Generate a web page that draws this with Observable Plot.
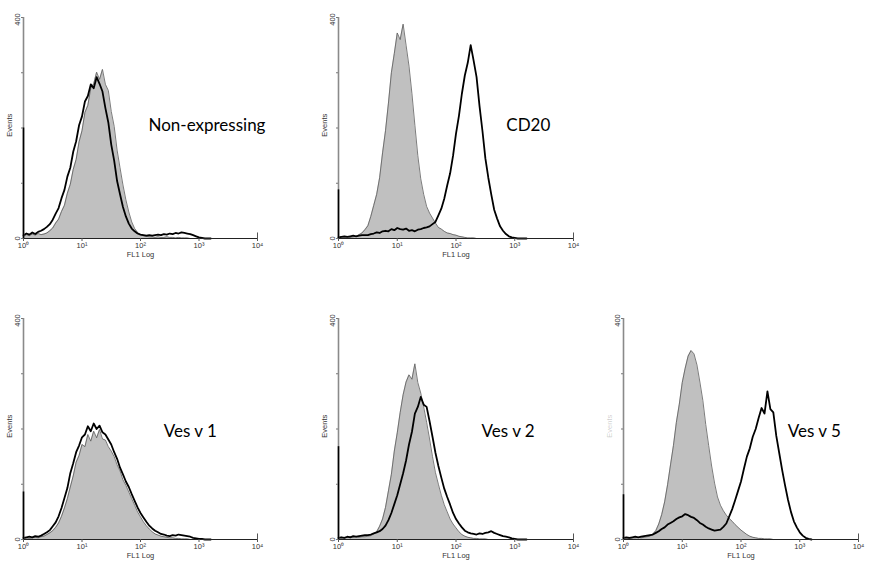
<!DOCTYPE html>
<html><head><meta charset="utf-8">
<script src="https://cdn.jsdelivr.net/npm/d3@7"></script>
<script src="https://cdn.jsdelivr.net/npm/@observablehq/plot@0.6"></script>
<style>
body{margin:0;background:#fff;}
#wrap{position:relative;width:877px;height:575px;overflow:hidden;background:#fff;}
.panel{position:absolute;}
</style></head><body><div id="wrap"></div>
<script>
// channel spacing in decades (FL1 log scale, 10^0 .. 10^4)
const logStep = 0.05;
const panelLabels = ["Non-expressing", "CD20", "Ves v 1", "Ves v 2", "Ves v 5"];
const xTickValues = [1, 10, 100, 1000, 10000];
const xTickLabels = ["10⁰", "10¹", "10²", "10³", "10⁴"];
const yTickValues = [0, 100, 200, 300, 400];
const yEndLabels = ["0", "400"];
const xTitle = "FL1 Log";
const yTitle = "Events";

// Control (gray filled) histograms, counts per channel starting at 10^0
const control1 = [4,7,5,8,6,9,7,8,10,14,19,28,35,49,60,82,98,125,143,175,195,228,241,272,280,301,288,306,279,268,230,203,160,128,97,70,48,30,18,11,7,5,4,3,3,2,3,2,2,3,2,2,1,2,1,1,1,0,0,0,0,0,0,0,0];
const control2 = [2,3,2,3,2,3,4,7,10,16,23,40,60,80,110,155,195,245,300,335,372,360,388,350,312,262,205,150,108,80,58,46,37,28,20,17,13,10,9,7,6,4,3,2,1,1,1,0,0,0,0,0,0,0,0,0,0,0,0,0,0,0,0,0,0];
const control3 = [2,3,2,3,4,3,5,6,9,12,16,22,30,42,57,74,95,115,140,152,172,168,190,178,196,184,199,182,180,168,160,150,135,124,108,98,86,74,62,50,41,32,25,19,14,10,8,6,5,4,3,3,2,2,1,1,1,0,0,0,0,0,0,0,0];
const control4 = [3,4,3,4,5,4,5,4,5,5,6,7,10,14,24,37,58,88,118,160,193,230,262,285,298,290,318,284,265,240,212,182,150,121,100,80,63,50,37,28,21,14,9,6,4,3,2,2,1,1,1,0,0,0,0,0,0,0,0,0,0,0,0,0,0];
const control5 = [2,3,2,3,3,4,3,4,5,6,10,16,28,45,68,99,135,170,212,245,284,310,332,342,336,316,285,252,208,170,133,102,77,62,52,44,38,33,27,22,17,13,9,6,4,3,2,2,1,1,1,0,0,0,0,0,0,0,0,0,0,0,0,0,0];

// Sample (black line) histograms
const sample1 = [6,9,7,11,8,12,14,17,21,26,34,45,55,73,88,112,128,157,176,205,221,248,258,279,272,292,280,266,236,210,170,141,104,80,57,40,27,18,13,9,7,6,5,6,5,6,7,6,8,7,9,8,10,9,11,10,9,8,6,4,2,1,0,0,0];
const sample2 = [2,3,4,3,4,5,4,5,6,6,6,8,9,11,10,13,14,13,17,15,19,17,16,18,14,15,13,16,17,19,20,22,26,30,42,54,72,96,118,150,190,222,262,295,318,350,322,292,240,195,145,110,80,52,36,22,14,8,4,2,1,0,0,0,0];
const sample3 = [3,4,5,4,6,5,7,10,13,17,24,31,42,57,75,93,120,138,158,170,185,190,205,196,210,200,206,194,190,181,172,158,146,130,118,105,95,82,70,58,48,40,32,25,20,16,13,10,9,7,6,8,7,9,8,7,6,5,3,2,1,1,0,0,0];
const sample4 = [3,4,3,5,4,6,5,6,7,8,8,9,11,13,15,19,25,35,48,64,80,100,120,143,172,195,228,240,258,244,240,214,186,157,133,112,92,77,63,48,37,29,22,16,13,11,10,9,11,10,12,13,15,12,10,8,6,5,4,2,1,0,0,0,0];
const sample5 = [3,4,3,4,5,4,5,6,7,8,9,12,15,19,22,27,30,33,37,40,42,46,44,41,39,35,30,27,23,20,18,16,17,18,23,29,42,55,71,88,105,128,150,165,186,200,220,238,228,268,236,230,188,157,126,98,72,50,33,22,13,7,3,1,0];

// first-channel (off-scale low) counts of the sample histograms
const firstChannel = [200, 88, 86, 168, 81];

const controls = [control1, control2, control3, control4, control5];
const samples = [sample1, sample2, sample3, sample4, sample5];

// label anchor in data units (FL1 value, events)
const labelPos = [[137, 205], [719, 205], [250, 196], [273, 196], [626, 196]];
const panelBox = [
  {left: 0, top: 7, width: 290},
  {left: 315, top: 7, width: 290},
  {left: 0, top: 308, width: 290},
  {left: 315, top: 308, width: 290},
  {left: 600, top: 308, width: 277}
];

const toRows = arr => arr.map((v, i) => ({x: Math.pow(10, i * logStep), y: v}));

const wrap = document.getElementById("wrap");
const tinyFont = "'Liberation Sans', Arial, sans-serif";

panelLabels.forEach((label, p) => {
  const box = panelBox[p];
  const ctrl = toRows(controls[p]);
  const samp = toRows(samples[p]);
  const plotW = p === 0 || p === 2 ? 234 : 235;
  const chart = Plot.plot({
    width: box.width,
    height: 270,
    marginLeft: 23,
    marginRight: box.width - 23 - plotW,
    marginTop: 10,
    marginBottom: 39,
    style: {background: "transparent", overflow: "visible"},
    x: {type: "log", domain: [1, 10000], axis: null},
    y: {domain: [0, 400], axis: null},
    marks: [
      Plot.areaY(ctrl, {x: "x", y: "y", fill: "#c0c0c0"}),
      Plot.lineY(ctrl, {x: "x", y: "y", stroke: "#5a5a5a", strokeWidth: 0.8}),
      Plot.lineY(samp, {x: "x", y: "y", stroke: "#000", strokeWidth: 1.8}),
      // axes
      Plot.ruleY([0], {x1: 1, x2: 10000, stroke: "#222", strokeWidth: 1}),
      Plot.ruleX([1], {y1: 0, y2: 400, stroke: "#8a8a8a", strokeWidth: 1.6}),
      Plot.ruleX([firstChannel[p]], {x: () => 1, y1: 0, y2: d => d, stroke: "#000", strokeWidth: 1.6}),
      Plot.ruleX([10000], {y1: 0, y2: 10, stroke: "#555", strokeWidth: 1}),
      Plot.axisX({ticks: xTickValues, tickSize: 3, tickPadding: 1, fontSize: 7.5,
        tickFormat: d => xTickLabels[xTickValues.indexOf(d)], fill: "#333", stroke: "#555",
        fontFamily: tinyFont, label: null}),
      Plot.axisY({ticks: yTickValues, tickSize: 2, tickFormat: () => "", stroke: "#777", label: null}),
      Plot.text([yEndLabels[0]], {x: 1, y: 0, dx: -6, rotate: -90, fontSize: 7.5, fill: "#333", fontFamily: tinyFont}),
      Plot.text([yEndLabels[1]], {x: 1, y: 400, dx: -6, dy: 2, rotate: -90, fontSize: 7.5, fill: "#333", fontFamily: tinyFont}),
      Plot.text([yTitle], {x: 1, y: 205, dx: -14, rotate: -90, fontSize: 7.5, fill: "#333", fontFamily: tinyFont,
        fillOpacity: p === 4 ? 0.25 : 1}),
      Plot.text([xTitle], {x: 100, y: 0, dy: 16, fontSize: 7.5, fill: "#333", fontFamily: tinyFont}),
      Plot.text([label], {x: labelPos[p][0], y: labelPos[p][1], textAnchor: "start", fontSize: 17,
        fontFamily: "Lato, 'Open Sans', sans-serif", fill: "#000"})
    ]
  });
  chart.classList.add("panel");
  chart.style.left = box.left + "px";
  chart.style.top = box.top + "px";
  wrap.appendChild(chart);
});
</script>
</body></html>
